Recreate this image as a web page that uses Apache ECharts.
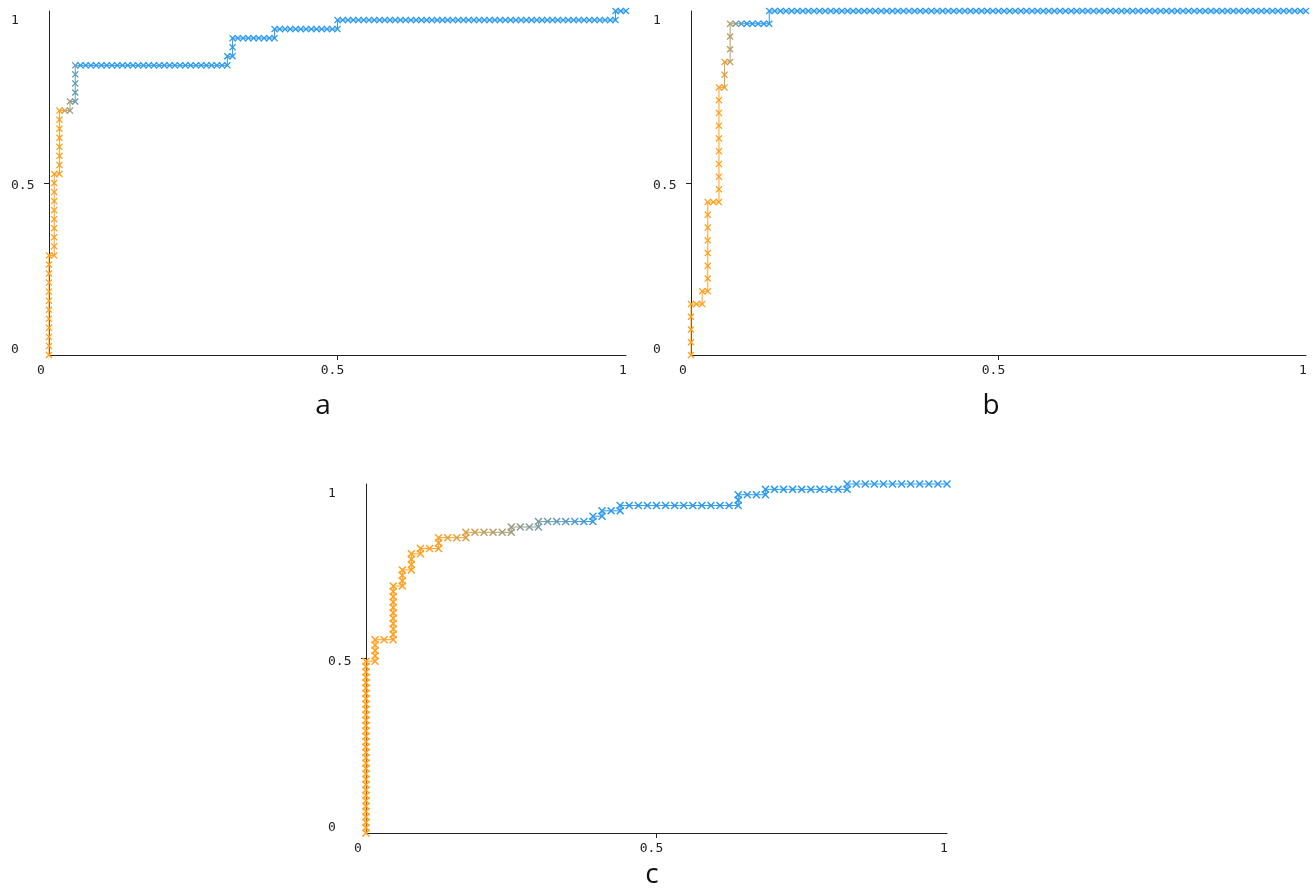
<!DOCTYPE html>
<html>
<head>
<meta charset="utf-8">
<script src="https://cdn.jsdelivr.net/npm/echarts@6/dist/echarts.min.js"></script>
<style>html,body{margin:0;padding:0;background:#fff}#chart{width:1316px;height:889px}</style>
</head>
<body>
<div id="chart"></div>
<script>
// ---- tick labels / panel captions ----
const tickValues = [0, 0.5, 1];
const tickLabels = ['0', '0.5', '1'];
const panelNames = ['a', 'b', 'c'];

// ---- panel a : ROC points as cumulative counts (false positives, true positives) ----
const negA = 110, posA = 38;
const fpA = [
  0,0,0,0,0,0,0,0,0,0,0,0,
  1,1,1,1,1,1,1,1,1,1,
  2,2,2,2,2,2,2,2,
  3,4,4,5,5,5,5,5,
  6,7,8,9,10,11,12,13,14,15,16,17,18,19,20,21,22,23,24,25,26,27,28,29,30,31,32,33,34,
  34,35,35,35,
  36,37,38,39,40,41,42,43,
  43,
  44,45,46,47,48,49,50,51,52,53,54,55,
  55,
  56,57,58,59,60,61,62,63,64,65,66,67,68,69,70,71,72,73,74,75,76,77,78,79,80,81,82,83,84,85,86,87,88,89,90,91,92,93,94,95,96,97,98,99,100,101,102,103,104,105,106,107,108,
  108,109,110
];
const tpA = [
  0,1,2,3,4,5,6,7,8,9,10,11,
  11,12,13,14,15,16,17,18,19,20,
  20,21,22,23,24,25,26,27,
  27,27,28,28,29,30,31,32,
  32,32,32,32,32,32,32,32,32,32,32,32,32,32,32,32,32,32,32,32,32,32,32,32,32,32,32,32,32,
  33,33,34,35,
  35,35,35,35,35,35,35,35,
  36,
  36,36,36,36,36,36,36,36,36,36,36,36,
  37,
  37,37,37,37,37,37,37,37,37,37,37,37,37,37,37,37,37,37,37,37,37,37,37,37,37,37,37,37,37,37,37,37,37,37,37,37,37,37,37,37,37,37,37,37,37,37,37,37,37,37,37,37,37,
  38,38,38
];

// ---- panel b ----
const negB = 110, posB = 27;
const fpB = [
  0,0,0,0,0,
  1,2,
  2,
  3,
  3,3,3,3,3,3,3,
  4,5,
  5,5,5,5,5,5,5,5,5,
  6,
  6,6,
  7,
  7,7,7,
  8,9,10,11,12,13,14,
  14,
  15,16,17,18,19,20,21,22,23,24,25,26,27,28,29,30,31,32,33,34,35,36,37,38,39,40,41,42,43,44,45,46,47,48,49,50,51,52,53,54,55,56,57,58,59,60,61,62,
  63,64,65,66,67,68,69,70,71,72,73,74,75,76,77,78,79,80,81,82,83,84,85,86,87,88,89,90,91,92,93,94,95,96,97,98,99,100,101,102,103,104,105,106,107,108,109,110
];
const tpB = [
  0,1,2,3,4,
  4,4,
  5,
  5,
  6,7,8,9,10,11,12,
  12,12,
  13,14,15,16,17,18,19,20,21,
  21,
  22,23,
  23,
  24,25,26,
  26,26,26,26,26,26,26,
  27,
  27,27,27,27,27,27,27,27,27,27,27,27,27,27,27,27,27,27,27,27,27,27,27,27,27,27,27,27,27,27,27,27,27,27,27,27,27,27,27,27,27,27,27,27,27,27,27,27,
  27,27,27,27,27,27,27,27,27,27,27,27,27,27,27,27,27,27,27,27,27,27,27,27,27,27,27,27,27,27,27,27,27,27,27,27,27,27,27,27,27,27,27,27,27,27,27,27
];

// ---- panel c ----
const negC = 64, posC = 65;
const fpC = [
  0,0,0,0,0,0,0,0,0,0,0,0,0,0,0,0,0,0,0,0,0,0,0,0,0,0,0,0,0,0,0,0,0,
  1,
  1,1,1,1,
  2,3,
  3,3,3,3,3,3,3,3,3,3,
  4,
  4,4,4,
  5,
  5,5,5,
  6,
  6,
  7,8,
  8,8,
  9,10,11,
  11,
  12,13,14,15,16,
  16,
  17,18,19,
  19,
  20,21,22,23,24,25,
  25,
  26,
  26,
  27,28,
  28,
  29,30,31,32,33,34,35,36,37,38,39,40,41,
  41,41,
  42,43,44,
  44,
  45,46,47,48,49,50,51,52,53,
  53,
  54,55,56,57,58,59,60,61,62,63,64
];
const tpC = [
  0,1,2,3,4,5,6,7,8,9,10,11,12,13,14,15,16,17,18,19,20,21,22,23,24,25,26,27,28,29,30,31,32,
  32,
  33,34,35,36,
  36,36,
  37,38,39,40,41,42,43,44,45,46,
  46,
  47,48,49,
  49,
  50,51,52,
  52,
  53,
  53,53,
  54,55,
  55,55,55,
  56,
  56,56,56,56,56,
  57,
  57,57,57,
  58,
  58,58,58,58,58,58,
  59,
  59,
  60,
  60,60,
  61,
  61,61,61,61,61,61,61,61,61,61,61,61,61,
  62,63,
  63,63,63,
  64,
  64,64,64,64,64,64,64,64,64,
  65,
  65,65,65,65,65,65,65,65,65,65,65
];

// ---- styling ----
const ORANGE = '#FFA01E';
const BLUE = '#2C9AF0';
const AXIS_COLOR = '#222';
const TICK_FONT = "'DejaVu Sans Mono', monospace";
const X_MARK = 'path://M0 1.3L1.3 0L5 3.7L8.7 0L10 1.3L6.3 5L10 8.7L8.7 10L5 6.3L1.3 10L0 8.7L3.7 5Z';

const panels = [
  { fp: fpA, tp: tpA, neg: negA, pos: posA, grid: { left: 49, top: 11, width: 577, height: 344 }, vm: [0.02, 0.055], size: 7, cap: [323, 406] },
  { fp: fpB, tp: tpB, neg: negB, pos: posB, grid: { left: 691, top: 11, width: 615, height: 344 }, vm: [0.05, 0.09], size: 7, cap: [991, 406] },
  { fp: fpC, tp: tpC, neg: negC, pos: posC, grid: { left: 366, top: 484, width: 581, height: 349 }, vm: [0.12, 0.40], size: 8, cap: [652, 875] }
];

function labelKey(v) { return v === 0 ? 'k0' : (v === 1 ? 'k1' : 'k5'); }
function labelText(v) { const i = tickValues.indexOf(v); return i >= 0 ? tickLabels[i] : ''; }
const baseFont = { fontFamily: TICK_FONT, fontSize: 13, color: AXIS_COLOR };

const xRich = {
  k0: Object.assign({ padding: [0, 16, 0, 0] }, baseFont),
  k5: Object.assign({ padding: [0, 10, 0, 0] }, baseFont),
  k1: Object.assign({ padding: [0, 6, 0, 0] }, baseFont)
};
const yRich = {
  k0: Object.assign({ padding: [0, 0, 10, 0] }, baseFont),
  k5: Object.assign({ padding: [6, 0, 0, 0] }, baseFont),
  k1: Object.assign({ padding: [20, 0, 0, 0] }, baseFont)
};

const grids = [], xAxes = [], yAxes = [], series = [], visualMaps = [], captions = [];
panels.forEach((p, i) => {
  grids.push(p.grid);
  const common = {
    type: 'value', gridIndex: i, min: 0, max: 1, interval: 0.5,
    splitLine: { show: false },
    axisLine: { show: true, onZero: false, lineStyle: { color: AXIS_COLOR, width: 1 } },
    axisTick: { show: true, length: 5, customValues: [0.5], lineStyle: { color: AXIS_COLOR, width: 1 } }
  };
  xAxes.push(Object.assign({}, common, {
    axisLabel: Object.assign({ margin: 9, formatter: v => '{' + labelKey(v) + '|' + labelText(v) + '}', rich: xRich }, baseFont)
  }));
  yAxes.push(Object.assign({}, common, {
    axisLabel: Object.assign({ margin: 38, align: 'left', formatter: v => '{' + labelKey(v) + '|' + labelText(v) + '}', rich: yRich }, baseFont)
  }));
  const data = p.fp.map((f, k) => [f / p.neg, p.tp[k] / p.pos]);
  series.push({
    type: 'line', xAxisIndex: i, yAxisIndex: i, data: data,
    symbol: X_MARK, symbolSize: p.size, showSymbol: true, showAllSymbol: true,
    lineStyle: { width: 1 }, clip: false, silent: true, animation: false
  });
  visualMaps.push({
    type: 'continuous', show: false, seriesIndex: i, dimension: 0,
    min: p.vm[0], max: p.vm[1], inRange: { color: [ORANGE, BLUE] }
  });
  captions.push({
    type: 'text', x: p.cap[0], y: p.cap[1], silent: true,
    style: { text: panelNames[i], fill: '#111', font: "28px 'Open Sans', sans-serif", align: 'center', verticalAlign: 'middle' }
  });
});

const chart = echarts.init(document.getElementById('chart'), null, { renderer: 'canvas' });
chart.setOption({
  animation: false,
  backgroundColor: '#fff',
  grid: grids,
  xAxis: xAxes,
  yAxis: yAxes,
  visualMap: visualMaps,
  series: series,
  graphic: captions
});
</script>
</body>
</html>
